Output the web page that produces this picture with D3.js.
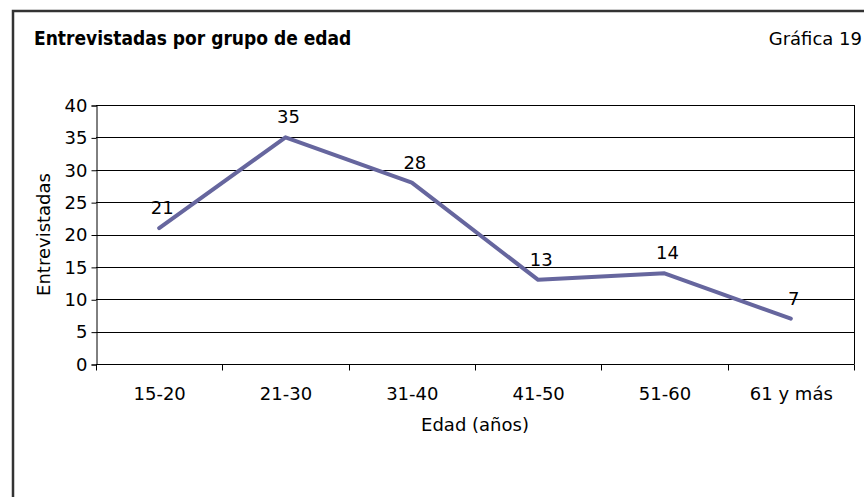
<!DOCTYPE html>
<html>
<head>
<meta charset="utf-8">
<script src="https://cdn.jsdelivr.net/npm/d3@7"></script>
<style>
  body { margin: 0; background: #fff; }
  svg text { font-family: "DejaVu Sans", sans-serif; fill: #000; }
</style>
</head>
<body>
<svg id="chart" width="864" height="497"></svg>
<script>
(function() {
    // data
    var categories = ["15-20", "21-30", "31-40", "41-50", "51-60", "61 y más"]
    var values = [21, 35, 28, 13, 14, 7]
    var yTicks = [0, 5, 10, 15, 20, 25, 30, 35, 40]

    var margin = {left: 96, top: 105, right: 10, bottom: 133}
    var width = 854 - margin.left, height = 364 - margin.top

    var svg = d3.select("#chart")

    // outer frame (runs off the right and bottom edge)
    svg.append("rect")
        .attr("x", 13).attr("y", 11)
        .attr("width", 900).attr("height", 600)
        .attr("fill", "none")
        .attr("stroke", "#333")
        .attr("stroke-width", 2.5)

    svg.append("text")
        .attr("x", 34).attr("y", 45)
        .style("font-family", "'DejaVu Sans Condensed', sans-serif")
        .style("font-size", "19px")
        .style("font-weight", "bold")
        .attr("fill", "#222")
        .text("Entrevistadas por grupo de edad")

    svg.append("text")
        .attr("x", 862).attr("y", 45)
        .attr("text-anchor", "end")
        .style("font-size", "18px")
        .attr("fill", "#222")
        .text("Gráfica 19")

    var x = d3.scaleBand()
        .domain(categories)
        .range([0, width])

    var y = d3.scaleLinear()
        .domain([0, 40])
        .range([height, 0])

    const chart = svg.append("g")
        .attr("transform", `translate(${margin.left}, ${margin.top})`)

    // grid lines
    chart.append("g")
        .selectAll("line")
        .data(yTicks)
        .join("line")
            .attr("x1", 0).attr("x2", width)
            .attr("y1", d => Math.round(y(d)) + 0.5)
            .attr("y2", d => Math.round(y(d)) + 0.5)
            .attr("stroke", "#000")

    // right border of plot area
    chart.append("line")
        .attr("x1", width + 0.5).attr("x2", width + 0.5)
        .attr("y1", 0).attr("y2", height)
        .attr("stroke", "#000")

    // y axis
    chart.append("g")
        .attr("transform", "translate(0.5,0.5)")
        .call(d3.axisLeft(y).tickValues(yTicks).tickSize(5).tickPadding(4))
        .call(g => g.selectAll("text").style("font-size", "18px"))
        .call(g => g.selectAll("line, path").attr("stroke", "#000"))

    // x axis: ticks on category boundaries
    var xAxis = chart.append("g")
        .attr("transform", `translate(0.5,${height + 0.5})`)
    xAxis.append("line")
        .attr("x1", 0).attr("x2", width)
        .attr("stroke", "#000")
    xAxis.selectAll("line.tick")
        .data(categories.concat([null]))
        .join("line")
            .attr("class", "tick")
            .attr("x1", (d, i) => Math.round(i * x.step()))
            .attr("x2", (d, i) => Math.round(i * x.step()))
            .attr("y1", 0).attr("y2", 6)
            .attr("stroke", "#000")
    xAxis.selectAll("text")
        .data(categories)
        .join("text")
            .attr("x", d => x(d) + x.bandwidth() / 2)
            .attr("y", 35)
            .attr("text-anchor", "middle")
            .style("font-size", "18px")
            .text(d => d)

    // axis titles
    chart.append("text")
        .attr("transform", `translate(-46, ${height / 2}) rotate(-90)`)
        .attr("text-anchor", "middle")
        .style("font-size", "18px")
        .text("Entrevistadas")

    chart.append("text")
        .attr("x", width / 2)
        .attr("y", height + 67)
        .attr("text-anchor", "middle")
        .style("font-size", "18px")
        .text("Edad (años)")

    // the line
    var line = d3.line()
        .x((d, i) => x(categories[i]) + x.bandwidth() / 2)
        .y(d => y(d))

    chart.append("path")
        .datum(values)
        .attr("d", line)
        .attr("fill", "none")
        .attr("stroke", "#66669e")
        .attr("stroke-width", 4)
        .attr("stroke-linecap", "round")
        .attr("stroke-linejoin", "round")

    // data labels
    chart.append("g")
        .selectAll("text")
        .data(values)
        .join("text")
            .attr("x", (d, i) => x(categories[i]) + x.bandwidth() / 2 + 3)
            .attr("y", d => y(d) - 14)
            .attr("text-anchor", "middle")
            .style("font-size", "18px")
            .text(d => d)
})();
</script>
</body>
</html>
